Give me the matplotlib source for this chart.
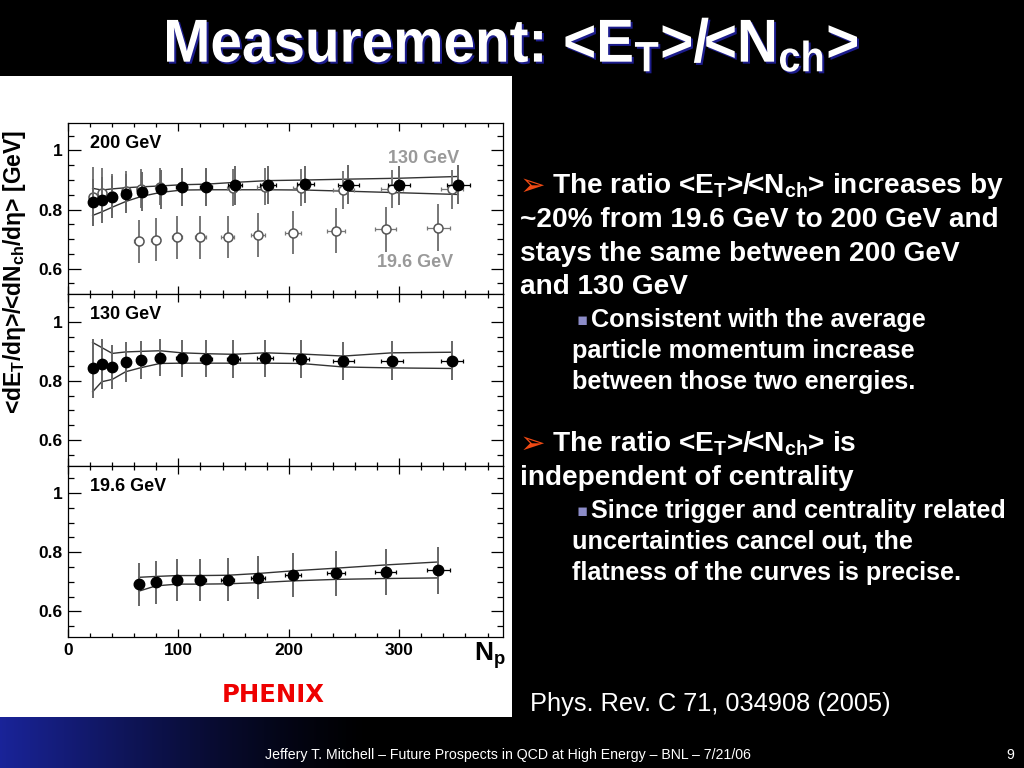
import numpy as np
import matplotlib
matplotlib.use("Agg")
import matplotlib.pyplot as plt
from matplotlib.patches import Rectangle, PathPatch
from matplotlib.textpath import TextPath
from matplotlib.font_manager import FontProperties
from matplotlib.transforms import Affine2D, IdentityTransform
from matplotlib.ticker import MultipleLocator, FixedLocator, FixedFormatter

# ---- data ----
np_200 = [22.3, 30.5, 40.1, 52.8, 67.0, 83.9, 102.9, 125.2, 151.1, 181.0, 215.0, 254.0, 299.8, 353.5]
r_200 = [0.825, 0.831, 0.842, 0.853, 0.860, 0.868, 0.877, 0.877, 0.882, 0.884, 0.885, 0.884, 0.883, 0.884]
yerr_200 = [0.080, 0.078, 0.072, 0.066, 0.066, 0.065, 0.064, 0.064, 0.065, 0.064, 0.064, 0.066, 0.066, 0.066]
xerr_200 = [2, 2.5, 3, 3.5, 4, 4.5, 5, 5.5, 6.5, 7, 8, 9.5, 10, 10.5]
hi_200 = [0.872, 0.866, 0.870, 0.874, 0.877, 0.880, 0.884, 0.886, 0.892, 0.898, 0.900, 0.903, 0.906, 0.912]
lo_200 = [0.780, 0.792, 0.808, 0.828, 0.845, 0.858, 0.866, 0.867, 0.867, 0.867, 0.866, 0.862, 0.857, 0.851]

np_130 = [22.3, 30.5, 40.1, 52.2, 66.4, 83.3, 102.9, 125.2, 149.6, 178.6, 210.9, 249.5, 293.5, 347.5]
r_130 = [0.843, 0.857, 0.846, 0.863, 0.871, 0.878, 0.876, 0.875, 0.874, 0.877, 0.874, 0.866, 0.869, 0.868]
yerr_130 = [0.100, 0.085, 0.075, 0.068, 0.065, 0.063, 0.063, 0.063, 0.063, 0.063, 0.063, 0.064, 0.065, 0.066]
xerr_130 = [2, 2.5, 3, 3.5, 4, 4.5, 5, 5.5, 6, 7, 7.5, 9.5, 10, 10]
hi_130 = [0.930, 0.913, 0.893, 0.898, 0.900, 0.902, 0.895, 0.892, 0.890, 0.895, 0.891, 0.884, 0.895, 0.897]
lo_130 = [0.763, 0.797, 0.805, 0.831, 0.845, 0.859, 0.860, 0.860, 0.860, 0.860, 0.859, 0.847, 0.844, 0.842]

np_19 = [64.0, 79.6, 98.9, 119.8, 144.5, 172.2, 203.9, 242.8, 287.8, 335.4]
r_19 = [0.692, 0.698, 0.706, 0.706, 0.707, 0.714, 0.722, 0.729, 0.733, 0.739]
yerr_19 = [0.073, 0.073, 0.072, 0.072, 0.072, 0.073, 0.074, 0.076, 0.077, 0.079]
xerr_19 = [4, 4, 4.5, 5, 6, 6.5, 7, 8, 9.5, 10.5]
hi_19 = [0.715, 0.718, 0.721, 0.721, 0.722, 0.728, 0.737, 0.746, 0.757, 0.767]
lo_19 = [0.668, 0.686, 0.692, 0.692, 0.693, 0.697, 0.703, 0.708, 0.711, 0.713]

panel_labels = ["200 GeV", "130 GeV", "19.6 GeV"]
y_ticks = [0.6, 0.8, 1.0]
y_tick_labels = ["0.6", "0.8", "1"]
x_ticks = [0, 100, 200, 300]

plt.rcParams["font.family"] = ["Liberation Sans", "DejaVu Sans"]
plt.rcParams["mathtext.fontset"] = "custom"
plt.rcParams["mathtext.rm"] = "Liberation Sans"
plt.rcParams["mathtext.bf"] = "Liberation Sans:bold"
plt.rcParams["mathtext.it"] = "Liberation Sans:italic"

W, H = 1024, 768
fig = plt.figure(figsize=(10.24, 7.68), dpi=100, facecolor="black")


def fx(px):
    return px / W


def fy(py):
    return 1 - py / H


# white panel behind the plot
fig.patches.append(Rectangle((0, fy(717)), fx(512), fy(76) - fy(717),
                             transform=fig.transFigure, facecolor="white",
                             edgecolor="none", zorder=-10))

# blue gradient footer
ax_bg = fig.add_axes([0, 0, 1, fy(717)], zorder=-5)
xs = np.linspace(0, 1, 512)
s = np.clip(1 - xs / 0.36, 0, 1) ** 1.3
grad = np.zeros((1, 512, 3))
grad[0, :, 0] = 0.10 * s
grad[0, :, 1] = 0.14 * s
grad[0, :, 2] = 0.60 * s
ax_bg.imshow(grad, aspect="auto", extent=[0, 1, 0, 1])
ax_bg.set_axis_off()

gs = fig.add_gridspec(3, 1, left=fx(68), right=fx(503), top=fy(123), bottom=fy(637), hspace=0)
axes = [fig.add_subplot(gs[i]) for i in range(3)]


def draw_points(ax, x, y, xerr, yerr, filled, vcol, hcol, z):
    ax.errorbar(x, y, yerr=yerr, fmt="none", ecolor=vcol, elinewidth=1.4, capsize=0, zorder=z)
    ax.errorbar(x, y, xerr=xerr, fmt="none", ecolor=hcol, elinewidth=0.9, capsize=1.5,
                capthick=0.9, zorder=z)
    if filled:
        ax.plot(x, y, "o", ms=7.5, mfc="black", mec="black", zorder=z + 1)
    else:
        ax.plot(x, y, "o", ms=6.5, mfc="white", mec="#555555", mew=1.1, zorder=z + 1)


def draw_band(ax, x, hi, lo):
    ax.plot(x, hi, color="#333333", lw=1.0, zorder=2)
    ax.plot(x, lo, color="#333333", lw=1.0, zorder=2)


# top panel: 200 GeV with 130 and 19.6 GeV overlaid
draw_points(axes[0], np_19, r_19, xerr_19, yerr_19, False, "#777777", "#777777", 3)
draw_points(axes[0], np_130, r_130, xerr_130, yerr_130, False, "#777777", "#777777", 3)
draw_band(axes[0], np_200, hi_200, lo_200)
draw_points(axes[0], np_200, r_200, xerr_200, yerr_200, True, "#666666", "black", 5)
axes[0].text(290, 0.972, "130 GeV", color="#999999", fontsize=13, fontweight="bold", va="center")
axes[0].text(280, 0.62, "19.6 GeV", color="#999999", fontsize=13, fontweight="bold", va="center")

draw_band(axes[1], np_130, hi_130, lo_130)
draw_points(axes[1], np_130, r_130, xerr_130, yerr_130, True, "#666666", "black", 5)

draw_band(axes[2], np_19, hi_19, lo_19)
draw_points(axes[2], np_19, r_19, xerr_19, yerr_19, True, "#666666", "black", 5)

for i, ax in enumerate(axes):
    ax.set_facecolor("white")
    ax.set_xlim(0, 394)
    ax.set_ylim(0.513, 1.093)
    ax.yaxis.set_major_locator(FixedLocator(y_ticks))
    ax.yaxis.set_major_formatter(FixedFormatter(y_tick_labels))
    ax.yaxis.set_minor_locator(MultipleLocator(0.05))
    ax.xaxis.set_major_locator(FixedLocator(x_ticks))
    ax.xaxis.set_minor_locator(MultipleLocator(20))
    ax.tick_params(axis="both", which="both", direction="in", top=True, right=True,
                   color="black", width=0.9)
    ax.tick_params(axis="y", which="major", length=9, pad=4)
    ax.tick_params(axis="y", which="minor", length=4.5)
    ax.tick_params(axis="x", which="major", length=6, pad=4)
    ax.tick_params(axis="x", which="minor", length=3)
    for lab in ax.get_yticklabels():
        lab.set_fontsize(12.5)
        lab.set_fontweight("bold")
    if i < 2:
        ax.tick_params(axis="x", labelbottom=False)
    else:
        for lab in ax.get_xticklabels():
            lab.set_fontsize(12.5)
            lab.set_fontweight("bold")
    for sp in ax.spines.values():
        sp.set_linewidth(0.9)
    ax.text(20, 1.024, panel_labels[i], fontsize=13, fontweight="bold", va="center", color="black")

# axis titles
fig.text(fx(15), fy(272), r"<dE$_\mathbf{T}$/dη>/<dN$_\mathbf{ch}$/dη> [GeV]", rotation=90,
         ha="center", va="center", fontsize=16.5, fontweight="bold", color="black")
fig.text(fx(490), fy(656), r"N$_\mathbf{p}$", ha="center", va="center", fontsize=19,
         fontweight="bold", color="black")
fig.text(fx(273), fy(695), "PHENIX", ha="center", va="center", fontsize=17.5,
         fontweight="bold", color="#ee0000", family="DejaVu Sans")

# slide title: condensed look by stretching a text path vertically
title = r"Measurement: <E$_\mathbf{T}$>/<N$_\mathbf{ch}$>"
tp = TextPath((0, 0), title, size=40, prop=FontProperties(family="Liberation Sans", weight="bold"))
bb = tp.get_extents()
sx = 690 / bb.width
sy = 44 / 29.0
x0 = 512 - bb.width * sx / 2 - bb.x0 * sx
base = H - 62
for dx, dy, col in [(2, -2, "#1c1c8c"), (0, 0, "white")]:
    tr = Affine2D().scale(sx, sy).translate(x0 + dx, base + dy)
    fig.patches.append(PathPatch(tr.transform_path(tp), transform=IdentityTransform(),
                                 facecolor=col, edgecolor="none", zorder=5))

# bullet text on the right
body = dict(color="white", fontweight="bold", va="center", ha="left")
for yb in (186, 444):
    fig.text(fx(520), fy(yb), "➢", color="#f04a14", fontsize=22, va="center", family="DejaVu Sans")
for yb in (320, 511):
    fig.text(fx(576), fy(yb), "▪", color="#8c8cc8", fontsize=12, va="center", family="DejaVu Sans")

main_lines = [
    (552, 186, r"The ratio <E$_\mathbf{T}$>/<N$_\mathbf{ch}$> increases by"),
    (520, 220, "~20% from 19.6 GeV to 200 GeV and"),
    (520, 254, "stays the same between 200 GeV"),
    (520, 287, "and 130 GeV"),
    (552, 444, r"The ratio <E$_\mathbf{T}$>/<N$_\mathbf{ch}$> is"),
    (520, 478, "independent of centrality"),
]
sub_lines = [
    (591, 320, "Consistent with the average"),
    (572, 351, "particle momentum increase"),
    (572, 382, "between those two energies."),
    (591, 511, "Since trigger and centrality related"),
    (572, 542, "uncertainties cancel out, the"),
    (572, 573, "flatness of the curves is precise."),
]
for x, y, t in main_lines:
    fig.text(fx(x), fy(y), t, fontsize=20.2, **body)
for x, y, t in sub_lines:
    fig.text(fx(x), fy(y), t, fontsize=18.2, **body)

fig.text(fx(530), fy(704), "Phys. Rev. C 71, 034908 (2005)", color="white", fontsize=18.3,
         va="center", ha="left")

fig.text(fx(508), fy(755), "Jeffery T. Mitchell – Future Prospects in QCD at High Energy – BNL – 7/21/06",
         color="white", fontsize=10.2, va="center", ha="center")
fig.text(fx(1010), fy(755), "9", color="white", fontsize=10.2, va="center", ha="center")

fig.savefig("out.png", dpi=100, facecolor="black")
